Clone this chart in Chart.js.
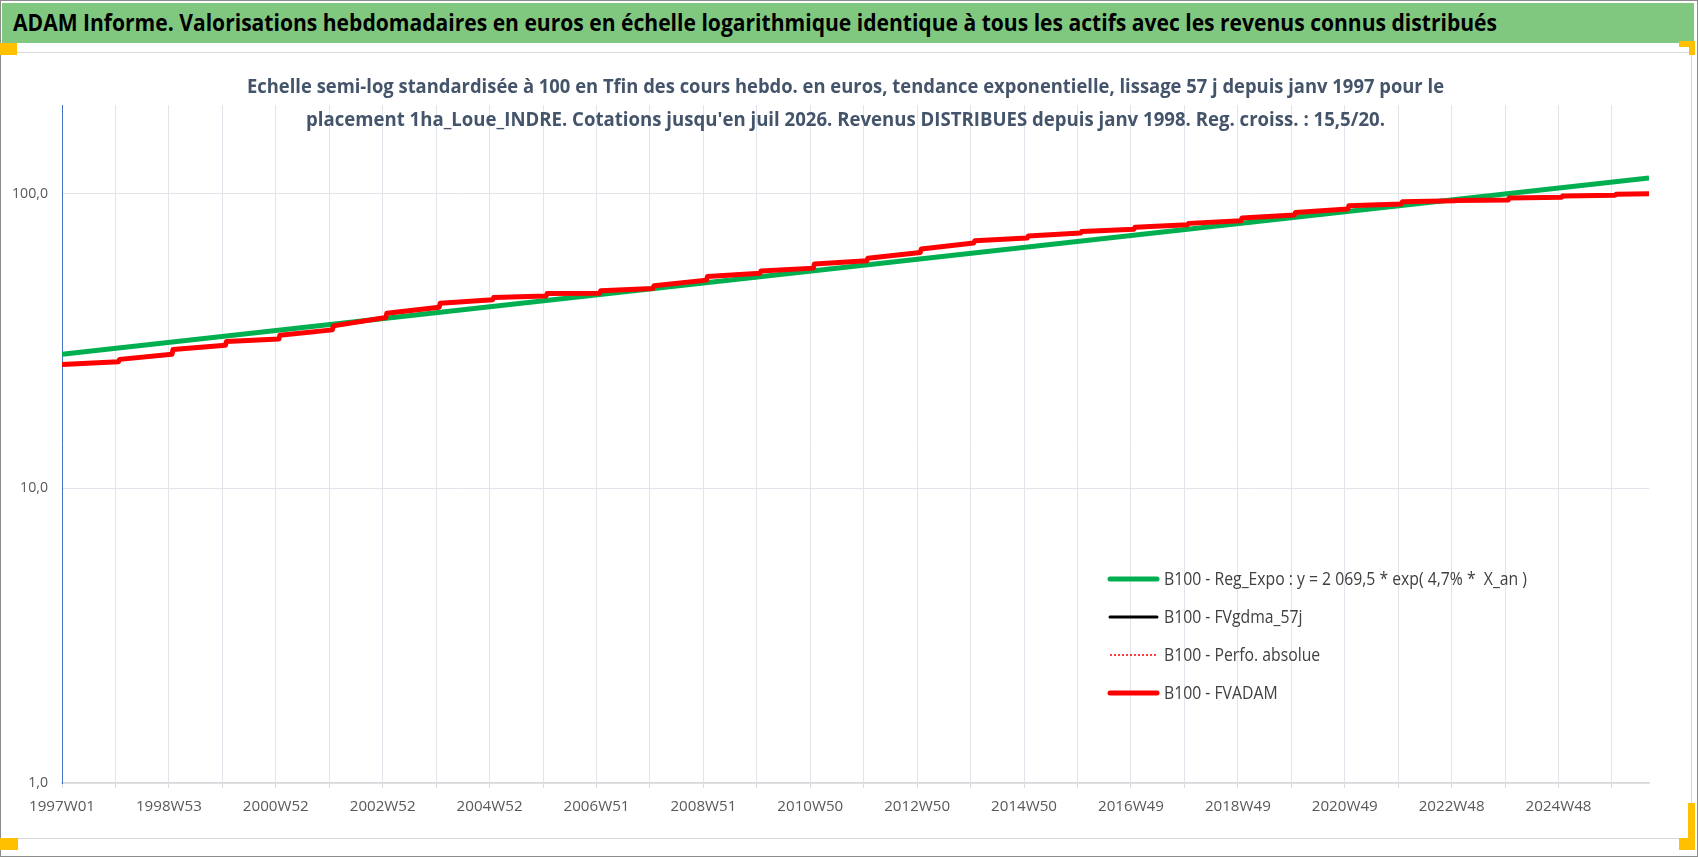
<!DOCTYPE html>
<html>
<head>
<meta charset="utf-8">
<script src="https://cdn.jsdelivr.net/npm/chart.js@4.4.1/dist/chart.umd.min.js"></script>
<style>
html,body{margin:0;padding:0;background:#fff;}
#page{position:relative;width:1698px;height:857px;overflow:hidden;background:#fff;}
.abs{position:absolute;}
#frame{left:0;top:0;width:1696px;height:855px;border:1px solid #8c8c8c;}
#band{left:2px;top:3px;width:1692px;height:40px;background:#80c880;}
.txt{position:absolute;white-space:nowrap;transform-origin:0 50%;}
.lg{background:#d9d9d9;}
.hd{background:#ffc000;}
#c{position:absolute;left:0;top:52px;}
</style>
</head>
<body>
<div id="page">
  <div id="frame" class="abs"></div>
  <div id="band" class="abs"></div>
  <div class="abs lg" style="left:1px;top:52px;width:1691px;height:1px;"></div>
  <div class="abs lg" style="left:1691px;top:52px;width:1px;height:786px;"></div>
  <div class="abs lg" style="left:1px;top:838px;width:1691px;height:1px;"></div>
  <canvas id="c" width="1690" height="786"></canvas>
  <div class="abs hd" style="left:0;top:43px;width:17px;height:12px;"></div>
  <div class="abs hd" style="left:0;top:838px;width:18px;height:12px;"></div>
  <div class="abs hd" style="left:1679px;top:41px;width:16px;height:6px;"></div>
  <div class="abs hd" style="left:1689px;top:41px;width:6px;height:14px;"></div>
  <div class="abs hd" style="left:1688px;top:803px;width:7px;height:47px;"></div>
  <div class="abs hd" style="left:1679px;top:838px;width:16px;height:12px;"></div>
</div>
<script>
// ---------- data ----------
const mainTitle = 'ADAM Informe. Valorisations hebdomadaires en euros en échelle logarithmique identique à tous les actifs avec les revenus connus distribués';
const subtitleLines = [
  "Echelle semi-log standardisée à 100 en Tfin des cours hebdo. en euros, tendance exponentielle, lissage 57 j depuis janv 1997 pour le",
  "placement 1ha_Loue_INDRE. Cotations jusqu'en juil 2026. Revenus DISTRIBUES depuis janv 1998. Reg. croiss. : 15,5/20."
];
const xTickLabels = ['1997W01','1998W53','2000W52','2002W52','2004W52','2006W51','2008W51',
  '2010W50','2012W50','2014W50','2016W49','2018W49','2020W49','2022W48','2024W48'];
const yTickValues = [1, 10, 100];
const yTickLabels = ['1,0', '10,0', '100,0'];
const seriesLabels = [
  'B100 - Reg_Expo : y = 2 069,5 * exp( 4,7% *  X_an )',
  'B100 - FVgdma_57j',
  'B100 - Perfo. absolue',
  'B100 - FVADAM'
];
// x = week index since 1997W01
const regExpoWeeks = [0, 1544];
const regExpoValues = [28.5, 113.0];
const fvadamWeeks = [0,55, 56,107, 108,159, 160,211, 212,263, 264,315, 316,367, 368,419, 420,471,
  472,523, 524,575, 576,627, 628,679, 680,731, 732,783, 784,835, 836,887, 888,939, 940,991,
  992,1043, 1044,1095, 1096,1147, 1148,1199, 1200,1251, 1252,1303, 1304,1355, 1356,1407,
  1408,1459, 1460,1511, 1512,1544];
const fvadamValues = [26.3,26.9, 27.4,28.5, 29.6,30.6, 31.5,32.1, 33.1,34.5, 35.6,38.0, 39.3,41.2,
  42.5,43.7, 44.4,45.0, 45.8,45.9, 46.8,47.7, 48.7,50.9, 52.4,53.7, 54.7,55.9, 57.7,59.2,
  60.4,63.2, 64.9,68.0, 69.2,70.7, 71.8,73.5, 74.4,75.8, 77.0,78.4, 79.3,80.9, 82.7,84.6,
  86.4,88.7, 91.0,92.3, 93.9,94.7, 94.8,95.2, 96.7,97.2, 98.3,98.8, 99.6,100.0];
// the smoothed and absolute-performance curves lie under the FVADAM curve
const fvgdmaWeeks = fvadamWeeks;
const fvgdmaValues = fvadamValues;
const perfoWeeks = fvadamWeeks;
const perfoValues = fvadamValues;

// ---------- fonts / text helpers ----------
const FAMILY = '"Open Sans", "Liberation Sans", sans-serif';
const mctx = document.createElement('canvas').getContext('2d');
function measure(text, weight, size){
  mctx.font = weight + ' ' + size + 'px ' + FAMILY;
  return mctx.measureText(text).width;
}
function fitSize(text, weight, width){ return 100 * width / measure(text, weight, 100); }
// place condensed HTML text: left x, centre y, target width
function placeText(text, left, cy, size, weight, color, width, centerX){
  const el = document.createElement('div');
  el.className = 'txt';
  el.textContent = text;
  el.style.fontFamily = FAMILY; el.style.fontSize = size + 'px'; el.style.fontWeight = weight;
  el.style.color = color; el.style.lineHeight = '30px'; el.style.top = (cy - 15) + 'px';
  const w = measure(text, weight, size);
  const sx = Math.min(1, width / w);
  const realW = w * sx;
  el.style.left = (centerX !== undefined ? centerX - realW / 2 : left) + 'px';
  el.style.transform = 'scaleX(' + sx.toFixed(4) + ')';
  document.getElementById('page').appendChild(el);
}
placeText(mainTitle, 13, 23, 22.5, 'bold', '#000000', 1484);
placeText(subtitleLines[0], 0, 86, 20, 'bold', '#44546A', 1197, 845.5);
placeText(subtitleLines[1], 0, 118.5, 20, 'bold', '#44546A', 1079, 845.5);

const LEG_SIZE = 18.5;
const legW = measure(seriesLabels[0], 'normal', LEG_SIZE);
const legSX = Math.min(1, 363 / legW);
const xTickSize = fitSize('1997W01', 'normal', 66);
const yTickSize = Math.min(15, fitSize('100,0', 'normal', 36));

function pts(xs, ys){ return xs.map((x, i) => ({ x: x, y: ys[i] })); }

const insideLegend = {
  id: 'insideLegend',
  afterDatasetsDraw(chart){
    const ctx = chart.ctx;
    const x0 = 1110, x1 = 1157, tx = 1164, y0 = 527, dy = 38;
    ctx.save();
    chart.data.datasets.forEach((ds, i) => {
      const y = y0 + i * dy;
      ctx.beginPath();
      ctx.strokeStyle = ds.borderColor;
      ctx.lineWidth = ds.legendWidth;
      ctx.lineCap = ds.borderDash ? 'butt' : 'round';
      ctx.setLineDash(ds.borderDash || []);
      ctx.moveTo(x0, y); ctx.lineTo(x1, y); ctx.stroke();
      ctx.setLineDash([]);
      ctx.save();
      ctx.translate(tx, y + 1);
      ctx.scale(legSX, 1);
      ctx.fillStyle = '#404040';
      ctx.font = 'normal ' + LEG_SIZE + 'px ' + FAMILY;
      ctx.textBaseline = 'middle'; ctx.textAlign = 'left';
      ctx.fillText(ds.label, 0, 0);
      ctx.restore();
    });
    ctx.restore();
  }
};

new Chart(document.getElementById('c'), {
  type: 'line',
  data: {
    datasets: [
      { label: seriesLabels[0], data: pts(regExpoWeeks, regExpoValues), borderColor: '#00b050',
        borderWidth: 5, legendWidth: 5, order: 3 },
      { label: seriesLabels[1], data: pts(fvgdmaWeeks, fvgdmaValues), borderColor: '#000000',
        borderWidth: 2, legendWidth: 3, order: 2 },
      { label: seriesLabels[2], data: pts(perfoWeeks, perfoValues), borderColor: '#ff0000',
        borderWidth: 1.5, legendWidth: 1.5, borderDash: [2, 2], order: 1 },
      { label: seriesLabels[3], data: pts(fvadamWeeks, fvadamValues), borderColor: '#ff0000',
        borderWidth: 5, legendWidth: 5, order: 0 }
    ]
  },
  options: {
    responsive: false,
    animation: false,
    events: [],
    parsing: false,
    elements: { point: { radius: 0 }, line: { tension: 0, borderCapStyle: 'butt', borderJoinStyle: 'round' } },
    layout: { padding: { left: 0, right: 41, top: 53, bottom: 0 } },
    plugins: {
      legend: { display: false },
      tooltip: { enabled: false },
      title: { display: false }
    },
    scales: {
      x: {
        type: 'linear', min: 0, max: 1544,
        afterFit(s){ s.height = 55; },
        afterBuildTicks(s){
          const t = []; for (let v = 0; v <= 1508; v += 52) t.push({ value: v });
          s.ticks = t;
        },
        grid: { color: '#e1e4ea', lineWidth: 1, drawTicks: true, tickLength: 5, tickColor: '#d9d9d9' },
        border: { color: '#d9d9d9', width: 1.5 },
        ticks: {
          autoSkip: false, maxRotation: 0, minRotation: 0, padding: 10, color: '#595959',
          font: { family: FAMILY, size: xTickSize },
          callback: (v) => (v % 104 === 0 ? xTickLabels[v / 104] : '')
        }
      },
      y: {
        type: 'logarithmic', min: 1, max: 200,
        afterFit(s){ s.width = 62; },
        afterBuildTicks(s){ s.ticks = yTickValues.map(v => ({ value: v })); },
        grid: { color: '#e1e4ea', lineWidth: 1, drawTicks: false },
        border: { color: '#4472c4', width: 1 },
        ticks: {
          padding: 14, color: '#595959',
          font: { family: FAMILY, size: yTickSize },
          callback: (v) => yTickLabels[yTickValues.indexOf(v)]
        }
      }
    }
  },
  plugins: [insideLegend]
});
</script>
</body>
</html>
